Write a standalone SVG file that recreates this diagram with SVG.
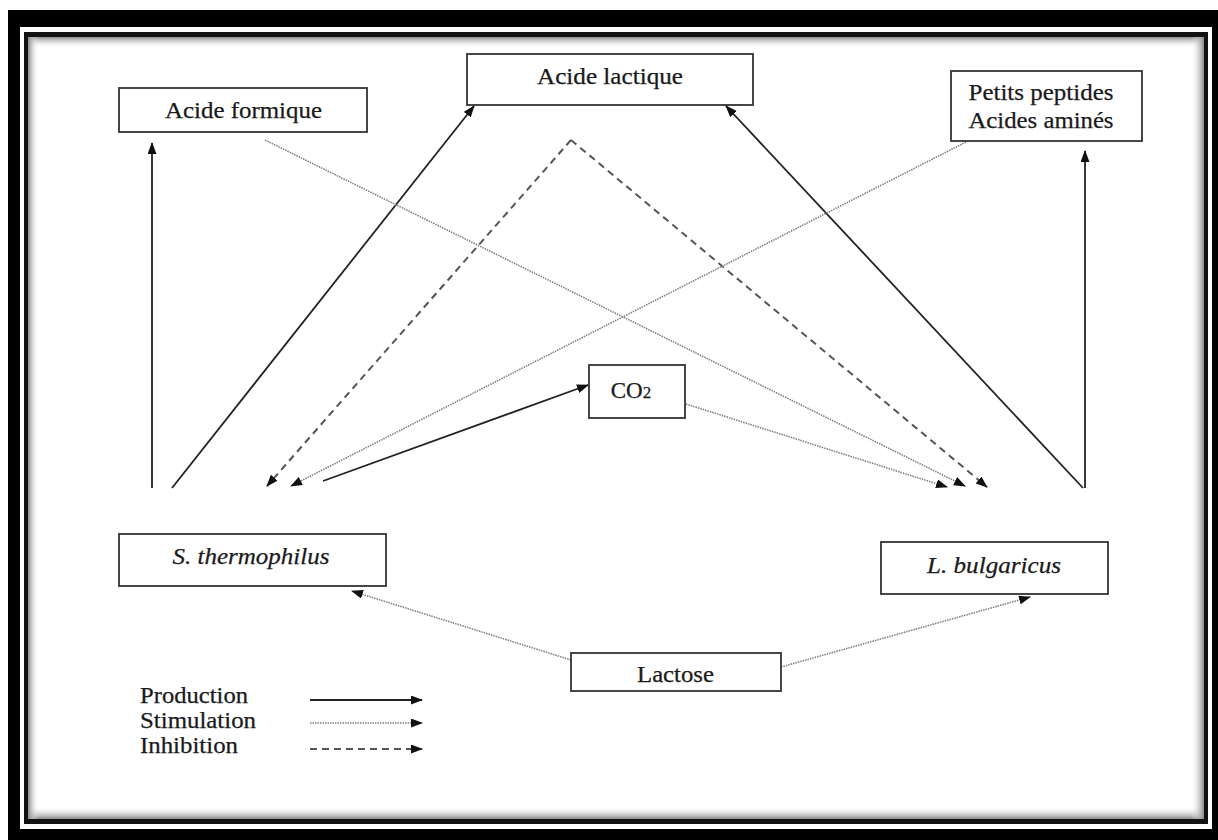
<svg xmlns="http://www.w3.org/2000/svg" width="1218" height="840" viewBox="0 0 1218 840">
<style>
.box{fill:#fff;stroke:#333;stroke-width:1.8}
.t{font-family:"Liberation Serif","Times New Roman","DejaVu Serif",serif;font-size:23px;fill:#1a1a1a;stroke:#1a1a1a;stroke-width:0.25;text-anchor:middle}
.ti{font-style:italic}
.lg{font-family:"Liberation Serif","Times New Roman","DejaVu Serif",serif;font-size:23px;fill:#1a1a1a;stroke:#1a1a1a;stroke-width:0.25}
.prod{stroke:#222;stroke-width:1.8;fill:none;marker-end:url(#ah)}
.stim{stroke:#808080;stroke-width:1.6;stroke-dasharray:1.5 1;fill:none;marker-end:url(#ah)}
.inh{stroke:#555;stroke-width:2;stroke-dasharray:7 5;fill:none;marker-end:url(#ah)}
</style>
<defs>
<marker id="ah" markerUnits="userSpaceOnUse" markerWidth="12" markerHeight="10" refX="11" refY="4.5" orient="auto">
<path d="M0,0 L12,4.5 L0,9 z" fill="#111"/>
</marker>
<linearGradient id="gT" x1="0" y1="0" x2="0" y2="1"><stop offset="0" stop-color="#8a8a8a"/><stop offset="1" stop-color="#fff" stop-opacity="0"/></linearGradient>
<linearGradient id="gB" x1="0" y1="1" x2="0" y2="0"><stop offset="0" stop-color="#8a8a8a"/><stop offset="1" stop-color="#fff" stop-opacity="0"/></linearGradient>
<linearGradient id="gL" x1="0" y1="0" x2="1" y2="0"><stop offset="0" stop-color="#8a8a8a"/><stop offset="1" stop-color="#fff" stop-opacity="0"/></linearGradient>
<linearGradient id="gR" x1="1" y1="0" x2="0" y2="0"><stop offset="0" stop-color="#8a8a8a"/><stop offset="1" stop-color="#fff" stop-opacity="0"/></linearGradient>
</defs>
<rect width="1218" height="840" fill="#fff"/>
<g id="frame">
<rect x="8" y="10" width="1210" height="830" fill="#000"/>
<rect x="20" y="27" width="1192" height="802" fill="#fff"/>
<rect x="24" y="32" width="1184" height="792" fill="#111"/>
<rect x="28" y="37" width="1176" height="782" fill="#fff"/>
<rect x="28" y="37" width="1176" height="11" fill="url(#gT)"/>
<rect x="28" y="806" width="1176" height="13" fill="url(#gB)"/>
<rect x="28" y="37" width="11" height="782" fill="url(#gL)"/>
<rect x="1191" y="37" width="13" height="782" fill="url(#gR)"/>
</g>
<g id="connectors">
<line class="prod" x1="152" y1="488" x2="152" y2="143"/>
<line class="prod" x1="172" y1="488" x2="474" y2="106"/>
<line class="prod" x1="1083" y1="488" x2="726" y2="106"/>
<line class="prod" x1="1085" y1="488" x2="1085" y2="151"/>
<line class="prod" x1="323" y1="481" x2="588" y2="385"/>
<line class="inh" x1="571" y1="140" x2="267" y2="486"/>
<line class="inh" x1="571" y1="140" x2="987" y2="487"/>
<line class="stim" x1="966" y1="142" x2="291" y2="486"/>
<line class="stim" x1="265" y1="140" x2="965" y2="486"/>
<line class="stim" x1="686" y1="404" x2="947" y2="487"/>
<line class="stim" x1="571" y1="660" x2="352" y2="591"/>
<line class="stim" x1="781" y1="667" x2="1030" y2="597"/>
</g>
<g id="acide-formique">
<rect class="box" x="119" y="88" width="248" height="44"/>
<text class="t" x="243.5" y="118" textLength="157" lengthAdjust="spacingAndGlyphs">Acide formique</text>
</g>
<g id="acide-lactique">
<rect class="box" x="467" y="54" width="286" height="51"/>
<text class="t" x="610" y="84" textLength="146" lengthAdjust="spacingAndGlyphs">Acide lactique</text>
</g>
<g id="peptides">
<rect class="box" x="951" y="71" width="191" height="70"/>
<text class="t" x="1041" y="100" textLength="145" lengthAdjust="spacingAndGlyphs">Petits peptides</text>
<text class="t" x="1041" y="128" textLength="145" lengthAdjust="spacingAndGlyphs">Acides aminés</text>
</g>
<g id="co2">
<rect class="box" x="589" y="365" width="96" height="53"/>
<text class="t" x="631" y="398">CO<tspan font-size="17">2</tspan></text>
</g>
<g id="s-thermophilus">
<rect class="box" x="119" y="534" width="267" height="52"/>
<text class="t ti" x="251" y="564" textLength="157" lengthAdjust="spacingAndGlyphs">S. thermophilus</text>
</g>
<g id="l-bulgaricus">
<rect class="box" x="881" y="542" width="227" height="52"/>
<text class="t ti" x="994" y="573" textLength="134" lengthAdjust="spacingAndGlyphs">L. bulgaricus</text>
</g>
<g id="lactose">
<rect class="box" x="571" y="653" width="210" height="38"/>
<text class="t" x="675.5" y="682" textLength="77" lengthAdjust="spacingAndGlyphs">Lactose</text>
</g>
<g id="legend">
<text class="lg" x="140" y="703" textLength="108" lengthAdjust="spacingAndGlyphs">Production</text>
<text class="lg" x="140" y="728" textLength="116" lengthAdjust="spacingAndGlyphs">Stimulation</text>
<text class="lg" x="140" y="753" textLength="98" lengthAdjust="spacingAndGlyphs">Inhibition</text>
<line class="prod" x1="310" y1="700" x2="422" y2="700"/>
<line class="stim" x1="310" y1="723" x2="422" y2="723"/>
<line class="inh" x1="310" y1="749" x2="422" y2="749"/>
</g>
</svg>
